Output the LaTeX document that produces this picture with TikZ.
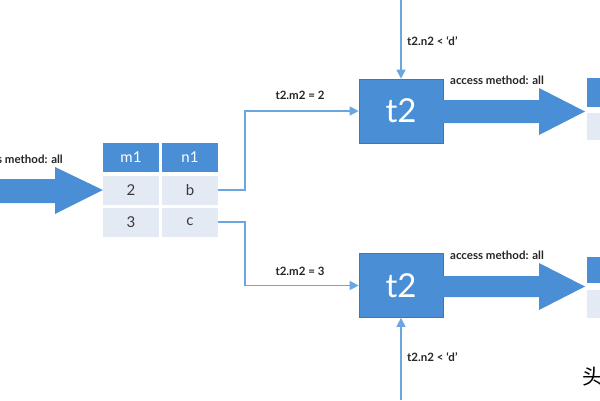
\documentclass[tikz,border=0pt]{standalone}
\usepackage{fontspec}
\setmainfont{Lato}
\newfontfamily\cjk{Noto Sans CJK SC}
\usetikzlibrary{arrows.meta}
\definecolor{boxblue}{HTML}{4A8FD5}
\definecolor{boxedge}{HTML}{3A78B8}
\definecolor{cellgray}{HTML}{E3EAF4}
\definecolor{lineblue}{HTML}{6AA6E0}
\definecolor{txt}{HTML}{3A3A3A}
\tikzset{
  headcell/.style={fill=boxblue, text=white, minimum width=56pt, minimum height=29pt, inner sep=0pt, font=\fontsize{15}{17}\selectfont},
  bodycell/.style={fill=cellgray, text=txt, minimum width=56pt, minimum height=29pt, inner sep=0pt, font=\fontsize{15}{17}\selectfont},
  tbox/.style={fill=boxblue, draw=boxedge, line width=0.7pt, minimum width=84pt, minimum height=64pt, inner sep=0pt, text=white, font=\fontsize{33}{36}\selectfont},
  conn/.style={draw=lineblue, line width=1.1pt, -{Triangle[length=9pt,width=9pt]}},
  lbl/.style={font=\bfseries\fontsize{11.5}{13}\selectfont, text=black!85, inner sep=0pt},
  bigarrow/.style={fill=boxblue}
}
\begin{document}
\begin{tikzpicture}[x=1pt,y=-1pt]
\useasboundingbox (0,0) rectangle (600,400);
\clip (0,0) rectangle (600,400);
\fill[white] (0,0) rectangle (600,400);

% left table
\node[headcell] (m1) at (131,157) {m1};
\node[headcell] (n1) at (190,157) {n1};
\node[bodycell] (r1a) at (131,190) {2};
\node[bodycell] (r1b) at (190,190) {b};
\node[bodycell] (r2a) at (131,222) {3};
\node[bodycell] (r2b) at (190,222) {c};

% left big arrow
\fill[bigarrow] (0,179) -- (55,179) -- (55,167) -- (r1a.west) -- (55,214) -- (55,203) -- (0,203) -- cycle;
\node[lbl, anchor=east] (lblL) at (63,159) {access method: all};

% t2 boxes
\node[tbox] (t2a) at (401,111) {t2};
\node[tbox] (t2b) at (401,285.5) {t2};

% connectors from table
\draw[conn] (r1b.east) -- (245,190) |- (t2a.west);
\draw[conn] (r2b.east) -- (245,222) |- (t2b.west);
\node[lbl] (lm2) at (300,95) {t2.m2 = 2};
\node[lbl] (lm3) at (300,271) {t2.m2 = 3};

% vertical filter arrows
\coordinate (topin) at (401,0);
\coordinate (botin) at (401,400);
\draw[conn] (topin) -- (t2a.north);
\draw[conn] (botin) -- (t2b.south);
\node[lbl, anchor=west] (f1) at (407,41) {t2.n2 < `d'};
\node[lbl, anchor=west] (f2) at (407,357) {t2.n2 < `d'};

% right partial tables
\node[headcell, minimum width=40pt, minimum height=29pt, anchor=north west] (rh1) at (587,78) {};
\node[bodycell, minimum width=40pt, minimum height=27pt, anchor=north west] (rc1) at (587,113) {};
\node[headcell, minimum width=40pt, minimum height=26pt, anchor=north west] (rh2) at (587,257) {};
\node[bodycell, minimum width=40pt, minimum height=28pt, anchor=north west] (rc2) at (587,290) {};

% right big arrows
\fill[bigarrow] (443,100) -- (539,100) -- (539,88) -- (585,111.5) -- (539,135) -- (539,123) -- (443,123) -- cycle;
\fill[bigarrow] (443,276) -- (539,276) -- (539,263) -- (585,286.5) -- (539,310) -- (539,297) -- (443,297) -- cycle;
\node[lbl, anchor=west] (am1) at (450,80) {access method: all};
\node[lbl, anchor=west] (am2) at (450,255) {access method: all};

% watermark
\node[anchor=west, inner sep=0pt, font=\cjk\fontsize{21}{22}\selectfont] (wm) at (582,377) {头};
\end{tikzpicture}
\end{document}
